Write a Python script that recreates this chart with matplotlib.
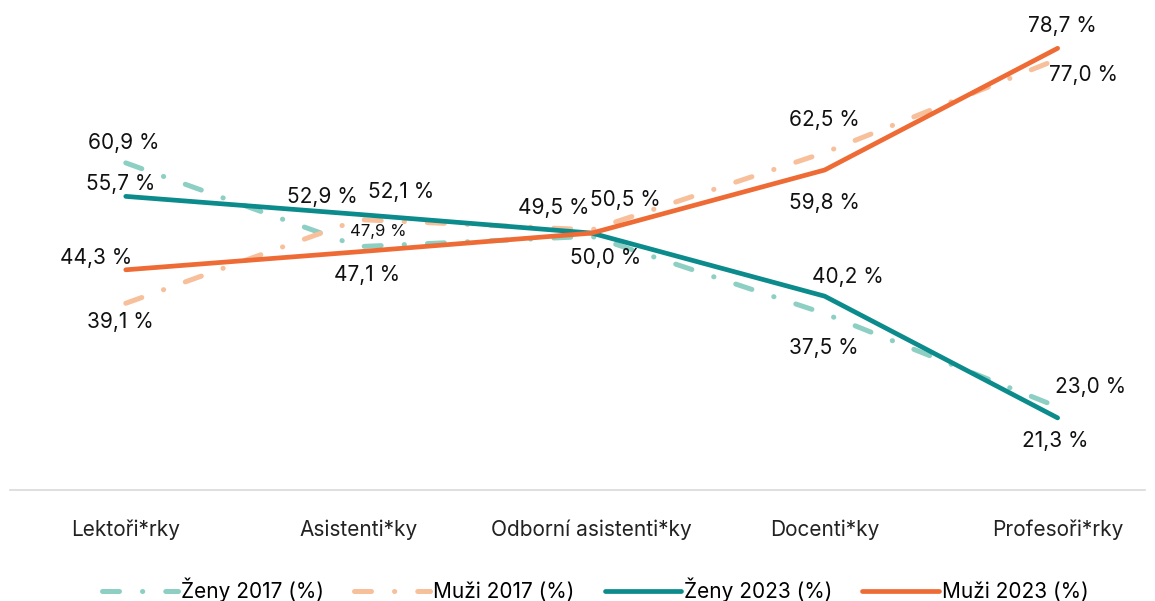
import matplotlib.pyplot as plt

plt.rcParams['font.family'] = ['Inter', 'DejaVu Sans']

kategorie = ["Lektoři*rky", "Asistenti*ky", "Odborní asistenti*ky", "Docenti*ky", "Profesoři*rky"]
zeny_2017 = [60.9, 47.9, 49.5, 37.5, 23.0]
muzi_2017 = [39.1, 52.1, 50.5, 62.5, 77.0]
zeny_2023 = [55.7, 52.9, 50.0, 40.2, 21.3]
muzi_2023 = [44.3, 47.1, 50.0, 59.8, 78.7]

# posuny popisku v pixelech (dx, dy), None = bez popisku
posun_z17 = [(-2, 20), (20, 15), (-38, 28), (-1, -34), (33, 20)]
posun_m17 = [(-5, -19), (42, 28), (34, 30), (0, 33), (26, -16)]
posun_z23 = [(-5, 12), (-36, 17), (14, -25), (23, 19), (-2, -23)]
posun_m23 = [(-30, 12), (8, -23), None, (0, -33), (5, 22)]

fig = plt.figure(figsize=(11.55, 6.01), dpi=100)
W, H = 1155, 601
# osa: x 10..1145 px, y 0..490 px (odshora)
ax = fig.add_axes([10 / W, (H - 490) / H, 1135 / W, 490 / H])

x = list(range(len(kategorie)))
carka = (0, (3.4, 4.6, 0.05, 4.6))

ax.plot(x, zeny_2017, color='#8dcfc3', lw=3.6, linestyle=carka, dash_capstyle='round',
        solid_capstyle='round', label='Ženy 2017 (%)', zorder=2)
ax.plot(x, muzi_2017, color='#f8bf9b', lw=3.6, linestyle=carka, dash_capstyle='round',
        solid_capstyle='round', label='Muži 2017 (%)', zorder=2)
ax.plot(x, zeny_2023, color='#0b8b8b', lw=3.4, solid_capstyle='round',
        label='Ženy 2023 (%)', zorder=3)
ax.plot(x, muzi_2023, color='#ee6b35', lw=3.4, solid_capstyle='round',
        label='Muži 2023 (%)', zorder=3)

for hodnoty, posuny in [(zeny_2017, posun_z17), (muzi_2017, posun_m17),
                        (zeny_2023, posun_z23), (muzi_2023, posun_m23)]:
    for i, v in enumerate(hodnoty):
        if posuny[i] is None:
            continue
        fs = 12 if (hodnoty is zeny_2017 and i == 1) else 15
        ax.annotate(f"{v:.1f} %".replace('.', ','), (i, v), xytext=posuny[i],
                    textcoords='offset pixels', ha='center', va='center',
                    fontsize=fs, color='#111111', zorder=5)

ax.set_xlim(-0.497, 4.375)
ax.set_ylim(10.1, 86.2)
ax.set_xticks(x)
ax.set_xticklabels(kategorie, fontsize=15, color='#222222')
ax.tick_params(axis='x', length=0, pad=21)
ax.set_yticks([])
for s in ['top', 'left', 'right']:
    ax.spines[s].set_visible(False)
ax.spines['bottom'].set_color('#d9d9d9')
ax.spines['bottom'].set_linewidth(1.2)

fig.legend(loc='center', bbox_to_anchor=(595 / W, 1 - 590 / H), ncol=4, frameon=False,
           fontsize=15, handlelength=3.65, handletextpad=0.15, columnspacing=1.45)

fig.savefig('out.png', dpi=100)
